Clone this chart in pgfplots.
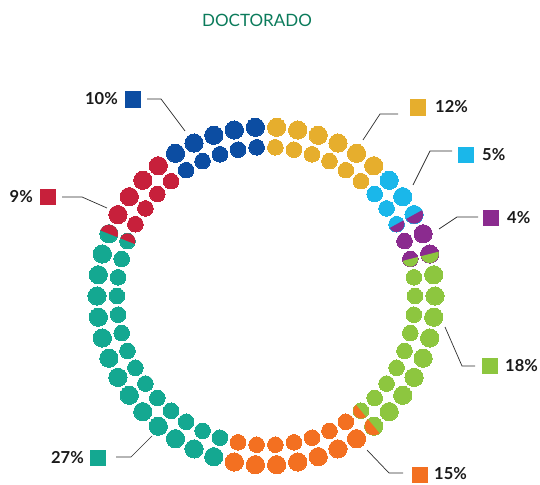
\documentclass[border=0pt]{standalone}
\usepackage{pgfplots}
\pgfplotsset{compat=1.18}
\usepackage{fontspec}
\setmainfont{Lato}
\definecolor{cyel}{HTML}{E6AE2D}
\definecolor{clbl}{HTML}{1AB7EA}
\definecolor{cpur}{HTML}{8B2B8F}
\definecolor{cgrn}{HTML}{8DC63F}
\definecolor{cora}{HTML}{F37021}
\definecolor{ctea}{HTML}{14A891}
\definecolor{cred}{HTML}{C7203B}
\definecolor{cdbl}{HTML}{0C4DA2}
\definecolor{ctitle}{HTML}{0B7B5B}
\definecolor{cline}{HTML}{2E2E2E}
\definecolor{ctext}{HTML}{1A1A1A}
\pgfdeclareplotmark{halfdot}{%
  \pgfpathmoveto{\pgfqpoint{\pgfplotmarksize}{0pt}}%
  \pgfpatharc{0}{180}{\pgfplotmarksize}%
  \pgfpathclose
  \pgfusepathqfill}
\pgfplotsset{
  outerdot/.style={only marks, mark=*, mark size=9.1, data cs=polar, mark options={line width=0pt}},
  innerdot/.style={only marks, mark=*, mark size=7.8, data cs=polar, mark options={line width=0pt}},
  outerhalf/.style={only marks, mark=halfdot, mark size=9.15, data cs=polar, mark options={rotate=#1}},
  innerhalf/.style={only marks, mark=halfdot, mark size=7.85, data cs=polar, mark options={rotate=#1}},
  leader/.style={no marks, color=cline, line width=0.7pt},
  keysq/.style={only marks, mark=square*, mark size=7.8, mark options={line width=0pt}},
}
\begin{document}
\begin{tikzpicture}
\useasboundingbox (0,0) rectangle (540pt,484pt);
\begin{axis}[at={(0,0)}, anchor=south west, x=1pt, y=1pt,
  xmin=-266, xmax=274, ymin=-188, ymax=296, hide axis, clip=false]
% yellow 12%
\addplot[outerdot, color=cyel] coordinates {(86.4,169)(79.2,169)(72,169)(64.8,169)(57.6,169)(50.4,169)};
\addplot[innerdot, color=cyel] coordinates {(86.4,149)(79.2,149)(72,149)(64.8,149)(57.6,149)(50.4,149)};
% light blue 5%
\addplot[outerdot, color=clbl] coordinates {(43.2,169)(36,169)(28.8,169)};
\addplot[innerdot, color=clbl] coordinates {(43.2,149)(36,149)(28.8,149)};
% purple 4%
\addplot[outerdot, color=cpur] coordinates {(21.6,169)(14.4,169)};
\addplot[innerdot, color=cpur] coordinates {(21.6,149)(14.4,149)};
\addplot[outerhalf=-151.2, color=cpur] coordinates {(28.8,169)};
\addplot[innerhalf=-151.2, color=cpur] coordinates {(28.8,149)};
% green 18%
\addplot[outerdot, color=cgrn] coordinates {(7.2,169)(0,169)(-7.2,169)(-14.4,169)(-21.6,169)(-28.8,169)(-36,169)(-43.2,169)(-50.4,169)};
\addplot[innerdot, color=cgrn] coordinates {(7.2,149)(0,149)(-7.2,149)(-14.4,149)(-21.6,149)(-28.8,149)(-36,149)(-43.2,149)(-50.4,149)};
\addplot[outerhalf=-165.6, color=cgrn] coordinates {(14.4,169)};
\addplot[innerhalf=-165.6, color=cgrn] coordinates {(14.4,149)};
% orange 15%
\addplot[outerdot, color=cora] coordinates {(-57.6,169)(-64.8,169)(-72,169)(-79.2,169)(-86.4,169)(-93.6,169)(-100.8,169)};
\addplot[innerdot, color=cora] coordinates {(-57.6,149)(-64.8,149)(-72,149)(-79.2,149)(-86.4,149)(-93.6,149)(-100.8,149)};
\addplot[outerhalf=-230.4, color=cora] coordinates {(-50.4,169)};
\addplot[innerhalf=-230.4, color=cora] coordinates {(-50.4,149)};
% teal 27%
\addplot[outerdot, color=ctea] coordinates {(-108,169)(-115.2,169)(-122.4,169)(-129.6,169)(-136.8,169)(-144,169)(-151.2,169)(-158.4,169)(-165.6,169)(-172.8,169)(-180,169)(-187.2,169)(-194.4,169)(-201.6,169)};
\addplot[innerdot, color=ctea] coordinates {(-108,149)(-115.2,149)(-122.4,149)(-129.6,149)(-136.8,149)(-144,149)(-151.2,149)(-158.4,149)(-165.6,149)(-172.8,149)(-180,149)(-187.2,149)(-194.4,149)(-201.6,149)};
% red 9%
\addplot[outerdot, color=cred] coordinates {(-208.8,169)(-216,169)(-223.2,169)(-230.4,169)};
\addplot[innerdot, color=cred] coordinates {(-208.8,149)(-216,149)(-223.2,149)(-230.4,149)};
\addplot[outerhalf=-21.6, color=cred] coordinates {(-201.6,169)};
\addplot[innerhalf=-21.6, color=cred] coordinates {(-201.6,149)};
% dark blue 10%
\addplot[outerdot, color=cdbl] coordinates {(-237.6,169)(-244.8,169)(-252,169)(-259.2,169)(-266.4,169)};
\addplot[innerdot, color=cdbl] coordinates {(-237.6,149)(-244.8,149)(-252,149)(-259.2,149)(-266.4,149)};
% leader lines
\addplot[leader] coordinates {(-119,197)(-105,197)(-81,165)};
\addplot[leader] coordinates {(132,182)(114,182)(97,156)};
\addplot[leader] coordinates {(186,145)(164,145)(147,111)};
\addplot[leader] coordinates {(212,79)(191,79)(173,67)};
\addplot[leader] coordinates {(179,-31)(196,-70)(209,-70)};
\addplot[leader] coordinates {(101,-154)(123,-177)(137,-177)};
\addplot[leader] coordinates {(-150,-161)(-135,-161)(-114,-140)};
\addplot[leader] coordinates {(-204,99)(-184,99)(-159,88)};
% key squares
\addplot[keysq, color=cdbl] coordinates {(-133,196.5)};
\addplot[keysq, color=cyel] coordinates {(152,188.5)};
\addplot[keysq, color=clbl] coordinates {(200,141)};
\addplot[keysq, color=cpur] coordinates {(225,78)};
\addplot[keysq, color=cgrn] coordinates {(224,-70)};
\addplot[keysq, color=cora] coordinates {(154,-179)};
\addplot[keysq, color=ctea] coordinates {(-168,-162)};
\addplot[keysq, color=cred] coordinates {(-218,99)};
% labels
\begin{scope}[every node/.style={inner sep=0pt, text=ctext, font=\fontsize{16.5}{19}\selectfont\bfseries}]
\node[anchor=east] at (axis cs:-148,197) {10\%};
\node[anchor=west] at (axis cs:169,189) {12\%};
\node[anchor=west] at (axis cs:216,141) {5\%};
\node[anchor=west] at (axis cs:241,78) {4\%};
\node[anchor=west] at (axis cs:239,-70) {18\%};
\node[anchor=west] at (axis cs:168,-178) {15\%};
\node[anchor=east] at (axis cs:-182,-162) {27\%};
\node[anchor=east] at (axis cs:-233,99) {9\%};
\end{scope}
\node[inner sep=0pt, text=ctitle, font=\fontsize{17}{20}\selectfont] at (axis cs:-9,276) {DOCTORADO};
\end{axis}
\end{tikzpicture}
\end{document}
